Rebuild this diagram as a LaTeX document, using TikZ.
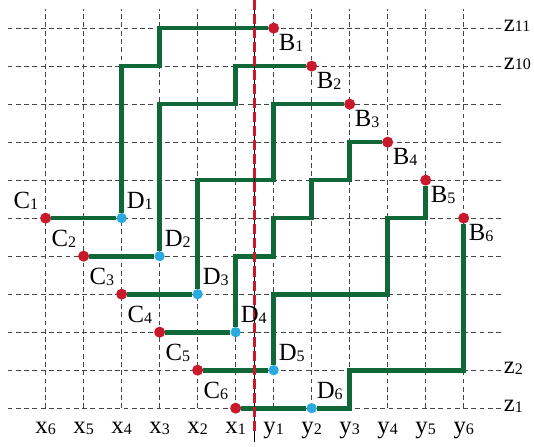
\documentclass[tikz,border=0pt]{standalone}
\usepackage{fontspec}
\setmainfont{Liberation Serif}
\usepackage{tikz}
\usetikzlibrary{backgrounds}
\definecolor{routegreen}{RGB}{16,104,56}
\definecolor{dotred}{RGB}{200,25,45}
\definecolor{dotblue}{RGB}{41,171,226}
\definecolor{gridgray}{RGB}{70,70,70}
\newcommand{\idx}[1]{{\fontsize{12}{12}\selectfont\raisebox{-0.6pt}{#1}}}
\begin{document}
\begin{tikzpicture}[
rdot/.style={circle, fill=dotred, inner sep=0pt, minimum size=2.9mm},
bdot/.style={circle, fill=dotblue, inner sep=0pt, minimum size=2.7mm},
route/.style={draw=routegreen, line width=3.5pt},
gridline/.style={draw=gridgray, line width=0.5pt, dash pattern=on 3.6pt off 2.6pt},
lbl/.style={font=\fontsize{18.5}{18.5}\selectfont, inner sep=0pt}
]
\useasboundingbox (-6.7,0) rectangle (7.35,11.74);
%Nodes
\node[rdot]      (B1)     at (0.5,11)      {};
\node[rdot]      (B2)     at (1.5,10)      {};
\node[rdot]      (B3)     at (2.5,9)       {};
\node[rdot]      (B4)     at (3.5,8)       {};
\node[rdot]      (B5)     at (4.5,7)       {};
\node[rdot]      (B6)     at (5.5,6)       {};
\node[rdot]      (C1)     at (-5.5,6)      {};
\node[rdot]      (C2)     at (-4.5,5)      {};
\node[rdot]      (C3)     at (-3.5,4)      {};
\node[rdot]      (C4)     at (-2.5,3)      {};
\node[rdot]      (C5)     at (-1.5,2)      {};
\node[rdot]      (C6)     at (-0.5,1)      {};
\node[bdot]      (D1)     at (-3.5,6)      {};
\node[bdot]      (D2)     at (-2.5,5)      {};
\node[bdot]      (D3)     at (-1.5,4)      {};
\node[bdot]      (D4)     at (-0.5,3)      {};
\node[bdot]      (D5)     at (0.5,2)       {};
\node[bdot]      (D6)     at (1.5,1)       {};
%Labels
\foreach \i in {1,...,6} {
  \node[lbl, anchor=base west, xshift=1.3mm, yshift=-6mm]  (tB\i) at (B\i) {B\idx{\i}};
  \node[lbl, anchor=base east, xshift=-1.9mm, yshift=2.6mm] (tC\i) at (C\i) {C\idx{\i}};
  \node[lbl, anchor=base west, xshift=1.3mm, yshift=2.5mm]  (tD\i) at (D\i) {D\idx{\i}};
  \node[lbl, anchor=base] (x\i) at (0.5-\i,0.34) {x\idx{\i}};
  \node[lbl, anchor=base] (y\i) at (\i-0.5,0.34) {y\idx{\i}};
}
\node[lbl, anchor=mid west] (z1)  at (6.55,1)  {z\idx{1}};
\node[lbl, anchor=mid west] (z2)  at (6.55,2)  {z\idx{2}};
\node[lbl, anchor=mid west] (z10) at (6.55,10) {z\idx{10}};
\node[lbl, anchor=mid west] (z11) at (6.55,11) {z\idx{11}};
\coordinate (axtop) at (0,11.74);
\coordinate (axbot) at (0,0.1);
\begin{pgfonlayer}{background}
%Grid
\foreach \k in {1,...,11} \draw[gridline] (-6.5,\k) -- (6.5,\k);
\foreach \c in {-5.5,-4.5,...,5.5} \draw[gridline] (\c,1) -- (\c,11.5);
%Lines
\draw[route] (C1) -- (D1) |- (-2.5,10) |- (B1);
\draw[route] (C2) -- (D2) |- (-0.5,9) |- (B2);
\draw[route] (C3) -- (D3) |- (0.5,7) |- (B3);
\draw[route] (C4) -- (D4) |- (0.5,5) |- (1.5,6) |- (2.5,7) |- (B4);
\draw[route] (C5) -- (D5) |- (3.5,4) |- (4.5,6) -- (B5);
\draw[route] (C6) -- (D6) -- (2.5,1) |- (5.5,2) -- (B6);
%Axis
\draw[black, line width=0.7pt] (axbot) -- (axtop);
\draw[dotred, line width=2.2pt, dash pattern=on 7.5pt off 3pt] (axtop) -- (0,0.3);
\end{pgfonlayer}
\end{tikzpicture}
\end{document}
